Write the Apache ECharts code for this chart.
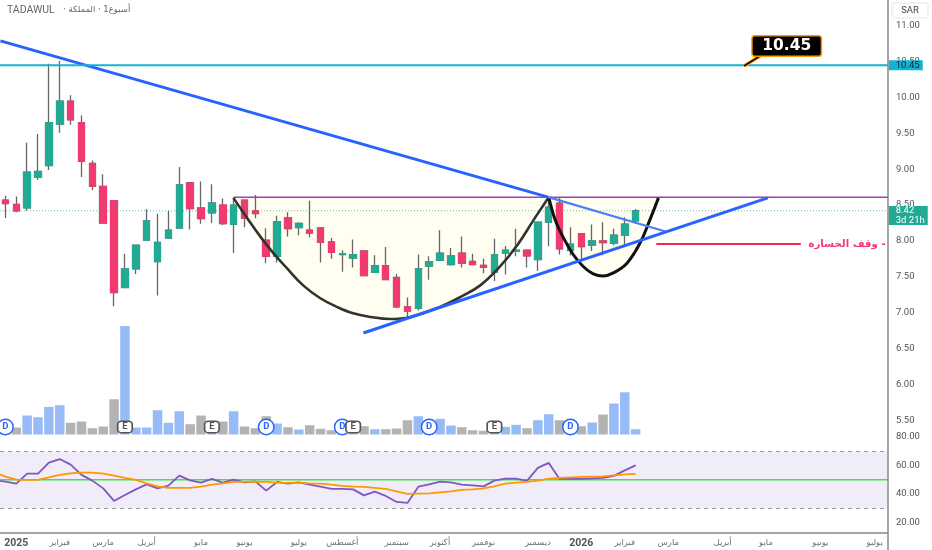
<!DOCTYPE html>
<html>
<head>
<meta charset="utf-8">
<style>
  html, body { margin: 0; padding: 0; background: #fff; }
  #chart { width: 932px; height: 550px; }
</style>
<script src="https://cdn.jsdelivr.net/npm/echarts@6/dist/echarts.min.js"></script>
</head>
<body>
<div id="chart"></div>
<script>
// weekly candles
const opens = [8.57,8.51,8.46,8.89,9.05,9.63,9.95,9.65,9.08,8.76,8.56,7.35,7.61,8.01,7.71,8.04,8.18,8.81,8.46,8.39,8.50,8.23,8.57,8.42,8.01,7.785,8.32,8.185,8.15,8.18,7.985,7.81,7.76,7.86,7.56,7.655,7.49,7.08,7.06,7.65,7.73,7.67,7.83,7.715,7.66,7.56,7.83,7.855,7.87,7.74,8.26,8.525,7.87,8.10,7.94,8.00,7.965,8.08,8.28];
const closes = [8.52,8.42,8.96,8.97,9.65,9.95,9.69,9.11,8.76,8.25,7.28,7.61,7.94,8.28,7.98,8.15,8.78,8.45,8.31,8.53,8.24,8.50,8.315,8.38,7.785,8.27,8.17,8.245,8.11,7.98,7.84,7.82,7.81,7.515,7.655,7.46,7.08,7.02,7.61,7.71,7.83,7.79,7.69,7.67,7.63,7.81,7.87,7.87,7.79,8.26,8.47,7.89,7.955,7.92,8.00,7.975,8.08,8.235,8.42];
const lows = [8.32,8.40,8.42,8.85,8.99,9.51,9.62,8.89,8.71,8.25,7.09,7.35,7.54,8.01,7.24,8.04,8.18,8.16,8.24,8.25,8.22,7.83,8.19,8.315,7.69,7.70,8.06,8.08,8.05,7.70,7.75,7.57,7.63,7.515,7.56,7.46,7.06,6.91,7.03,7.46,7.73,7.655,7.63,7.67,7.55,7.44,7.53,7.785,7.63,7.585,7.925,7.81,7.795,7.72,7.86,7.80,7.94,7.94,8.235];
const highs = [8.63,8.62,9.37,9.49,10.47,10.51,10.03,9.75,9.12,8.93,8.56,7.82,7.94,8.44,8.38,8.42,9.03,8.82,8.83,8.79,8.59,8.59,8.57,8.64,8.175,8.35,8.40,8.26,8.56,8.19,8.04,7.87,8.02,7.86,7.80,7.915,7.54,7.21,7.81,7.785,8.15,7.90,8.06,7.82,7.75,8.03,7.93,8.17,7.87,8.26,8.59,8.60,8.19,8.10,8.23,8.26,8.17,8.33,8.445];
const volumes = [8,7,19,17.3,27.7,29.3,11.7,13,6.3,8,35.3,108.7,7,7,24.3,11.7,23.3,10.3,19,3,13,23.3,8,6.3,18.3,11,7.3,5,9.3,5.7,4.3,5,4,8.3,5.3,5.3,6,14.3,18.3,9,15.7,9,7.3,4.3,3.7,4,7.7,9.7,6.3,14.3,20.3,14.3,6,8.3,12,20,31,42.3,5.3];
const rsi = [48.7,47.3,54.3,54.3,62,64.5,60.6,53.4,49.4,44,35.2,39.4,43.3,46.8,44,45.9,52.9,49.6,48,50.6,48,50.1,48.2,48.9,42.4,48.5,47.3,48.2,46.6,45.2,43.6,43.6,43.3,39.1,41.7,38.7,34.5,33.8,45.2,46.8,48.7,48.2,46.6,46.1,45.4,49.4,50.8,50.8,49.2,58.3,61.8,50.6,50.8,50.6,51,51.3,52.7,56.6,60.1];
const rsiMa = [52.2,50.1,49.9,49.9,51.7,53.4,54.5,55,55,54.3,52.9,51.3,49.9,47.5,45.4,44.3,44.3,44.3,45.2,46.6,47.5,48.5,48.5,48.7,48.5,48,47.8,48,47.5,47.3,46.6,45.7,45.2,45,44.3,43.6,41.9,40.1,40.3,40.5,41.2,41.9,42.9,43.3,44,45.4,47.3,48,48.5,49.4,50.8,51.3,51.7,52,52.2,52.4,53.1,53.8,54.1];
// lines come in from off the left edge
const rsiBefore = 49.2;
const rsiMaBefore = 53.8;

// time axis: 82 weekly slots, only month starts carry text
const slotCount = 82;
const tickIndex = [1,5,9,13,18,22,27,31,36,40,44,49,53,57,61,66,70,75,80];
const tickLabels = ['2025','فبراير','مارس','أبريل','مايو','يونيو','يوليو','أغسطس','سبتمبر','أكتوبر','نوفمبر','ديسمبر','2026','فبراير','مارس','أبريل','مايو','يونيو','يوليو'];
const priceTicks = [5.5,6,6.5,7,7.5,8,8.5,9,9.5,10,10.5,11];
const rsiTicks = [20,40,60,80];

// drawn objects, [slot, price]
const cupCurve = [[20.98,8.6],[22.24,8.32],[23.46,8.06],[24.66,7.83],[25.9,7.62],[27.4,7.38],[28.98,7.2],[30.5,7.08],[32,6.99],[33.6,6.94],[35.4,6.91],[37.3,6.94],[40,7.08],[41.9,7.22],[43.7,7.38],[45.5,7.64],[47.1,7.94],[48.6,8.29],[50,8.61]];
const handleCurve = [[50,8.61],[50.6,8.29],[51.3,8.06],[52.3,7.8],[53.2,7.64],[54.1,7.54],[55,7.51],[55.9,7.55],[57.2,7.69],[58.4,7.97],[59.3,8.29],[60.1,8.6]];
const fallingLine = [[-0.46,10.79],[49.95,8.61]];
const fallingLine2 = [[49.95,8.61],[60.9,8.124]];
const risingLine = [[32.94,6.715],[70.16,8.6]];
const rimLine = [[20.98,8.61],[81.2,8.61]];
const targetLine = [[-0.5,10.45],[81.2,10.45]];
const lastLine = [[-0.5,8.42],[81.2,8.42]];
const stopLine = [[59.9,7.957],[73.2,7.957]];
const calloutLine = [[67.98,10.44],[69.46,10.58]];
const dividendSlots = [0,24,31,39,52];
const earningsSlots = [11,19,32,45];

const GREEN = '#22ab94', RED = '#f03a70', BLUE = '#2962ff';
const FONT = 'Roboto, "DejaVu Sans", sans-serif';
const AR_FONT = '"DejaVu Sans", sans-serif';

const categories = new Array(slotCount).fill('');
tickIndex.forEach((s, i) => { categories[s] = tickLabels[i]; });

const candleData = opens.map((o, i) => [o, closes[i], lows[i], highs[i]]);
const bodyData = opens.map((o, i) => [o, closes[i], Math.min(o, closes[i]), Math.max(o, closes[i])]);
const volumeData = volumes.map((v, i) => ({
  value: v,
  itemStyle: { color: closes[i] >= opens[i] ? '#97bbf7' : '#b3b3b3' }
}));

function trend(data, color, width, z, extra) {
  return Object.assign({
    type: 'line', xAxisIndex: 1, yAxisIndex: 0, data, symbol: 'none', silent: true, z,
    lineStyle: { color, width }
  }, extra || {});
}
function flag(value, label, symbolProps) {
  return Object.assign({ value, symbolSize: 0, label: Object.assign({ show: true, fontFamily: FONT }, label) }, symbolProps || {});
}

const grids = [
  { left: -0.4, width: 891.4, top: 0, height: 434.5 },
  { left: -0.4, width: 891.4, top: 326, height: 108.5 },
  { left: -0.4, width: 891.4, top: 436, height: 97 }
];
const hiddenCat = (gridIndex) => ({ type: 'category', gridIndex, data: categories, show: false, boundaryGap: true });
const hiddenVal = (gridIndex) => ({ type: 'value', gridIndex, show: false, min: -0.5, max: slotCount - 0.5, splitLine: { show: false } });

const option = {
  animation: false,
  backgroundColor: '#fff',
  grid: grids,
  xAxis: [
    hiddenCat(0),
    hiddenVal(0),
    hiddenCat(1),
    {
      type: 'category', gridIndex: 2, data: categories, boundaryGap: true,
      axisLine: { show: false }, axisTick: { show: false }, splitLine: { show: false },
      axisLabel: {
        interval: 0, hideOverlap: false, margin: 5, color: '#707070', fontSize: 8.5, fontFamily: AR_FONT,
        formatter: (v) => /^\d+$/.test(v) ? '{y|' + v + '}' : v,
        rich: { y: { fontWeight: 'bold', fontSize: 10.5, color: '#555', fontFamily: FONT } }
      }
    },
    hiddenVal(2)
  ],
  yAxis: [
    {
      type: 'value', gridIndex: 0, position: 'right', min: 5.3, max: 11.36, scale: true,
      axisLine: { show: false }, axisTick: { show: false }, splitLine: { show: false },
      axisLabel: { customValues: priceTicks, margin: 5, padding: [3, 0, 0, 0], color: '#555', fontSize: 9.5, fontFamily: FONT, formatter: (v) => v.toFixed(2) }
    },
    { type: 'value', gridIndex: 1, show: false, min: 0, max: 108.7, splitLine: { show: false } },
    {
      type: 'value', gridIndex: 2, position: 'right', min: 12.8, max: 80.6, scale: true,
      axisLine: { show: false }, axisTick: { show: false }, splitLine: { show: false },
      axisLabel: { customValues: rsiTicks, margin: 5, padding: [2, 0, 0, 0], color: '#555', fontSize: 9.5, fontFamily: FONT, formatter: (v) => v.toFixed(2) }
    }
  ],
  series: [
    // cup fill sits under everything
    trend(cupCurve, 'rgba(0,0,0,0)', 0, 1, { smooth: 0.4, areaStyle: { color: '#fffef0', opacity: 1, origin: 8.61 } }),
    trend(handleCurve, 'rgba(0,0,0,0)', 0, 1, { smooth: 0.4, areaStyle: { color: '#fffef0', opacity: 1, origin: 8.61 } }),
    trend(lastLine, GREEN, 1, 2, { lineStyle: { color: GREEN, width: 1, type: [1, 2], opacity: 0.7 } }),
    trend(rimLine, '#a23fb8', 1.5, 3),
    {
      type: 'bar', name: 'Volume', xAxisIndex: 2, yAxisIndex: 1, data: volumeData,
      barWidth: 9.5, silent: true, z: 2
    },
    {
      type: 'candlestick', name: 'wicks', xAxisIndex: 0, yAxisIndex: 0, data: candleData, barWidth: 7, silent: true, z: 4,
      itemStyle: { color: GREEN, color0: RED, borderColor: '#666', borderColor0: '#666', borderWidth: 1.3 }
    },
    {
      type: 'candlestick', name: 'bodies', xAxisIndex: 0, yAxisIndex: 0, data: bodyData, barWidth: 7, silent: true, z: 5,
      itemStyle: { color: GREEN, color0: RED, borderColor: GREEN, borderColor0: RED, borderWidth: 1 }
    },
    trend(cupCurve, '#33332e', 2.6, 6, { smooth: 0.4 }),
    trend(handleCurve, '#111', 3, 6, { smooth: 0.4 }),
    trend(fallingLine, BLUE, 3, 7),
    trend(fallingLine2, '#4d7ff2', 2.2, 7),
    trend(risingLine, BLUE, 3, 7),
    trend(targetLine, '#12b5cf', 2, 7),
    trend(stopLine, '#f5234f', 1.8, 7),
    trend(calloutLine, '#ff9800', 3.5, 8),
    trend(calloutLine, '#000', 1.5, 8),
    {
      // event markers along the volume baseline
      type: 'scatter', xAxisIndex: 1, yAxisIndex: 0, silent: true, z: 9, clip: false,
      symbol: 'circle', symbolSize: 15.5,
      data: dividendSlots.map((s) => [s, 5.405]),
      itemStyle: { color: '#fff', borderColor: BLUE, borderWidth: 1.5, opacity: 1 },
      label: { show: true, position: 'inside', formatter: 'D', color: BLUE, fontSize: 9.5, fontWeight: 'bold', fontFamily: FONT }
    },
    {
      type: 'scatter', xAxisIndex: 1, yAxisIndex: 0, silent: true, z: 10, clip: false,
      symbol: 'roundRect', symbolSize: [14.5, 11.5],
      data: earningsSlots.map((s) => [s, 5.405]),
      itemStyle: { color: '#fff', borderColor: '#555', borderWidth: 1.5, opacity: 1 },
      label: { show: true, position: 'inside', formatter: 'E', color: '#555', fontSize: 9.5, fontWeight: 'bold', fontFamily: FONT }
    },
    {
      // text flags: callout, stop label, price tags on the scale
      type: 'scatter', xAxisIndex: 1, yAxisIndex: 0, silent: true, z: 11, clip: false,
      itemStyle: { opacity: 1 },
      data: [
        flag([71.9, 10.72], {
          position: 'inside', formatter: '10.45', color: '#fff', fontSize: 15.5, fontWeight: 'bold', fontFamily: AR_FONT,
          backgroundColor: '#000', borderColor: '#ff9800', borderWidth: 1.5, borderRadius: 2,
          width: 68, height: 19, lineHeight: 19, align: 'center', verticalAlign: 'middle'
        }),
        flag([73.9, 7.957], {
          position: 'right', distance: 0, formatter: 'وقف الخسارة -', color: RED, fontSize: 10.2, fontWeight: 'bold', fontFamily: AR_FONT
        }),
        flag([81.2, 10.45], {
          position: 'right', distance: 1, formatter: '10.45', color: '#123', fontSize: 9.5,
          backgroundColor: '#12b5cf', padding: [0, 6, 0, 7], width: 21, height: 10, lineHeight: 10
        }),
        flag([81.2, 8.355], {
          position: 'right', distance: 1, formatter: '8.42\n3d 21h', color: '#fff', fontSize: 9.5, lineHeight: 9.5,
          backgroundColor: GREEN, padding: [0, 3, 0, 7], width: 29, height: 19
        })
      ]
    },
    // RSI pane
    {
      type: 'line', name: 'band', xAxisIndex: 4, yAxisIndex: 2, symbol: 'none', silent: true, z: 2,
      data: [[-0.5, 50], [81.2, 50]],
      lineStyle: { color: '#46e04e', width: 1.6 },
      markArea: { silent: true, itemStyle: { color: 'rgba(126,87,194,0.11)' }, data: [[{ coord: [-0.5, 70] }, { coord: [81.2, 30] }]] },
      markLine: {
        silent: true, symbol: 'none', label: { show: false },
        lineStyle: { color: '#999', type: [4, 4], width: 1 },
        data: [[{ coord: [-0.5, 70] }, { coord: [81.2, 70] }], [{ coord: [-0.5, 30] }, { coord: [81.2, 30] }]]
      }
    },
    {
      type: 'line', name: 'RSI', xAxisIndex: 4, yAxisIndex: 2, symbol: 'none', silent: true, z: 3,
      data: [[-0.5, rsiBefore]].concat(rsi.map((v, i) => [i, v])),
      lineStyle: { color: '#7e57c2', width: 1.8 }
    },
    {
      type: 'line', name: 'RSI MA', xAxisIndex: 4, yAxisIndex: 2, symbol: 'none', silent: true, z: 4,
      data: [[-0.5, rsiMaBefore]].concat(rsiMa.map((v, i) => [i, v])),
      lineStyle: { color: '#ff9800', width: 1.8 }
    }
  ],
  graphic: [
    { type: 'line', silent: true, z: 20, shape: { x1: 888, y1: 0, x2: 888, y2: 550 }, style: { stroke: '#777', lineWidth: 1.3 } },
    { type: 'line', silent: true, z: 20, shape: { x1: 0, y1: 533, x2: 888, y2: 533 }, style: { stroke: '#888', lineWidth: 1.3 } },
    { type: 'rect', silent: true, z: 20, shape: { x: 892, y: 3, width: 36, height: 15, r: 2 }, style: { fill: '#fff', stroke: '#e6e6e6', lineWidth: 1 } },
    { type: 'text', silent: true, z: 21, x: 910, y: 10.5, style: { text: 'SAR', fill: '#444', font: '9.5px ' + FONT, textAlign: 'center', textVerticalAlign: 'middle' } },
    { type: 'text', silent: true, z: 21, x: 7, y: 10, style: { text: 'TADAWUL', fill: '#666', font: '10.5px ' + FONT, textVerticalAlign: 'middle' } },
    { type: 'text', silent: true, z: 21, x: 63, y: 10, style: { text: '· أسبوع1 · المملكة', fill: '#666', font: '8.5px ' + AR_FONT, textVerticalAlign: 'middle' } }
  ]
};

const chart = echarts.init(document.getElementById('chart'));
chart.setOption(option);
</script>
</body>
</html>
